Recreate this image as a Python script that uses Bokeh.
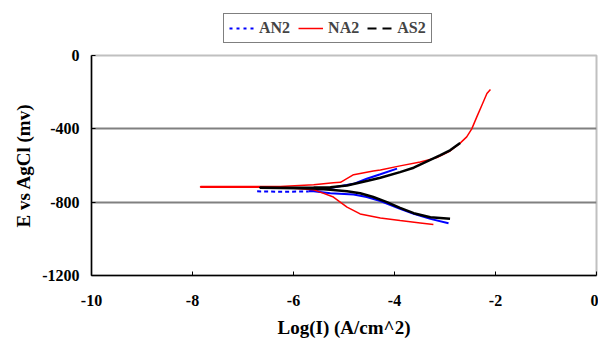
from bokeh.plotting import figure
from bokeh.layouts import column
from bokeh.models import Legend, LegendItem, FixedTicker, Range1d, PrintfTickFormatter
from bokeh.embed import file_html
from bokeh.resources import INLINE

# ---- data ----
series_names = ["AN2", "NA2", "AS2"]

# NA2 (red): cathodic branch -> Ecorr spike -> anodic branch
na2_x = [-3.23, -3.49, -3.89, -4.28, -4.68, -4.94, -5.21, -5.47, -5.60, -6.26, -7.84,
         -7.84, -6.26, -5.60, -5.21, -5.07, -4.81, -4.42, -4.28, -3.89, -3.49, -3.16,
         -2.90, -2.70, -2.57, -2.47, -2.37, -2.27, -2.17, -2.10]
na2_y = [-922, -913, -900, -886, -864, -827, -772, -745, -732, -718, -718,
         -714, -714, -705, -694, -692, -650, -630, -624, -602, -581, -557,
         -521, -478, -444, -400, -335, -271, -207, -185]

# AN2 (blue): flat part near Ecorr (dashed) and the two branches
an2_flat_x = [-6.72, -6.26, -5.70]
an2_flat_y = [-741, -743, -742]
an2_x = [-2.93, -3.29, -3.62, -3.89, -4.28, -4.55, -4.81, -5.27, -5.60, -5.70,
         -5.60, -5.27, -4.81, -4.55, -4.28, -3.95]
an2_y = [-915, -891, -864, -836, -794, -772, -758, -751, -740, -740,
         -736, -723, -700, -672, -648, -617]

# AS2 (black)
as2_x = [-2.90, -3.29, -3.62, -3.89, -4.15, -4.42, -4.68, -4.94, -5.27, -5.60, -6.26, -6.66,
         -6.66, -6.26, -5.60, -5.27, -4.94, -4.55, -4.28, -3.89, -3.62, -3.09, -2.90, -2.70]
as2_y = [-891, -882, -860, -831, -800, -772, -751, -740, -732, -725, -723, -722,
         -720, -721, -720, -718, -709, -685, -667, -636, -612, -544, -517, -477]

x_ticks = [-10, -8, -6, -4, -2, 0]
y_ticks = [-1200, -800, -400, 0]
x_title = "Log(I) (A/cm^2)"
y_title = "E vs AgCl (mv)"

FONT = "Liberation Serif"
LEG_H = 45

# ---- main plot ----
p = figure(width=598, height=342 - LEG_H, output_backend="svg", toolbar_location=None,
           x_range=Range1d(-10, 0), y_range=Range1d(-1200, 0),
           min_border_left=91, min_border_right=2, min_border_top=10, min_border_bottom=67)
p.background_fill_color = "white"
p.border_fill_color = "white"
p.outline_line_color = "#c0c0c0"
p.outline_line_width = 2

p.xgrid.grid_line_color = None
p.ygrid.grid_line_color = "#808080"
p.ygrid.grid_line_width = 2
p.ygrid.ticker = FixedTicker(ticks=y_ticks)

for ax, ticks in ((p.xaxis[0], x_ticks), (p.yaxis[0], y_ticks)):
    ax.ticker = FixedTicker(ticks=ticks)
    ax.formatter = PrintfTickFormatter(format="%d")
    ax.minor_tick_line_color = None
    ax.major_tick_in = 4
    ax.major_tick_out = 0
    ax.axis_line_color = "black"
    ax.axis_line_width = 1.5
    ax.major_tick_line_color = "black"
    ax.major_label_text_font = FONT
    ax.major_label_text_font_style = "bold"
    ax.major_label_text_font_size = "16px"
    ax.major_label_text_color = "black"
    ax.axis_label_text_font = FONT
    ax.axis_label_text_font_style = "bold"
    ax.axis_label_text_font_size = "19px"
    ax.axis_label_text_color = "black"

p.xaxis.axis_label = x_title
p.yaxis.axis_label = y_title
p.xaxis.major_label_standoff = 19
p.xaxis.axis_label_standoff = 8
p.xaxis.axis_label_text_line_height = 0.8
p.yaxis.major_label_standoff = 12
p.yaxis.axis_label_standoff = 5

p.line(an2_flat_x, an2_flat_y, line_color="blue", line_width=2, line_dash="4 3")
p.line(an2_x, an2_y, line_color="blue", line_width=2)
p.line(na2_x, na2_y, line_color="red", line_width=1.5)
p.line(as2_x, as2_y, line_color="black", line_width=2.5)

# ---- legend strip (series drawn off-range, only their legend glyphs show) ----
lg = figure(width=598, height=LEG_H, output_backend="svg", toolbar_location=None,
            x_range=Range1d(0, 1), y_range=Range1d(0, 1),
            x_axis_location=None, y_axis_location=None,
            min_border_left=0, min_border_right=0, min_border_top=0, min_border_bottom=0)
lg.grid.visible = False
lg.outline_line_color = None
lg.background_fill_color = "white"
lg.border_fill_color = "white"

r_an2 = lg.line(an2_x, an2_y, line_color="blue", line_width=2, line_dash="3 4")
r_na2 = lg.line(na2_x, na2_y, line_color="red", line_width=1.5)
r_as2 = lg.line(as2_x, as2_y, line_color="black", line_width=2, line_dash="9 6")

legend = Legend(items=[LegendItem(label=series_names[0], renderers=[r_an2]),
                       LegendItem(label=series_names[1], renderers=[r_na2]),
                       LegendItem(label=series_names[2], renderers=[r_as2])],
                orientation="horizontal", location=(132, 2))
legend.border_line_color = "black"
legend.border_line_width = 1
legend.background_fill_color = "white"
legend.label_text_font = FONT
legend.label_text_font_style = "bold"
legend.label_text_font_size = "16px"
legend.glyph_width = 25
legend.glyph_height = 14
legend.label_standoff = 5
legend.spacing = 8
legend.padding = 5
legend.margin = 0
lg.add_layout(legend, "center")

layout = column(lg, p, spacing=0)
open("out.html", "w").write(file_html(layout, INLINE))
